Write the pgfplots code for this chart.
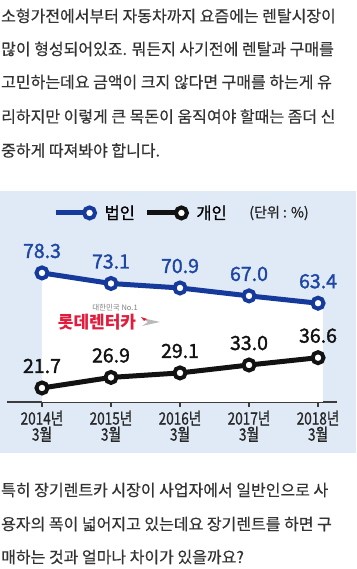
\documentclass[border=0pt]{standalone}
\usepackage{fontspec}
\setmainfont{Noto Sans CJK KR}
\newfontfamily\bodyfont[FakeBold=0.4]{Noto Sans CJK KR}
\newfontfamily\medfont[FakeBold=1.0]{Noto Sans CJK KR}
\newfontfamily\numfont[FakeBold=1.6]{Noto Sans CJK KR}
\usepackage{pgfplots}
\pgfplotsset{compat=1.18}
\definecolor{bg}{RGB}{223,234,246}
\definecolor{bblue}{RGB}{22,58,155}
\definecolor{lblue}{RGB}{30,70,165}
\definecolor{txt}{RGB}{51,51,51}
\definecolor{lotte}{RGB}{226,28,60}
\definecolor{axc}{RGB}{60,60,60}
\begin{document}
\begin{tikzpicture}[x=1pt,y=1pt]
\useasboundingbox (0,0) rectangle (356,569);
\fill[white] (0,0) rectangle (356,569);
\fill[bg] (0,116) rectangle (356,378);
\begin{scope}[every node/.style={anchor=base west, inner sep=0pt, font=\bodyfont\fontsize{16}{18}\selectfont, text=txt}]
\node at (1,547) {소형가전에서부터 자동차까지 요즘에는 렌탈시장이};
\node at (1,514) {많이 형성되어있죠. 뭐든지 사기전에 렌탈과 구매를};
\node at (1,481) {고민하는데요 금액이 크지 않다면 구매를 하는게 유};
\node at (1,446.5) {리하지만 이렇게 큰 목돈이 움직여야 할때는 좀더 신};
\node at (1,412.5) {중하게 따져봐야 합니다.};
\node at (1,73) {특히 장기렌트카 시장이 사업자에서 일반인으로 사};
\node at (1,39) {용자의 폭이 넓어지고 있는데요 장기렌트를 하면 구};
\node at (1,6) {매하는 것과 얼마나 차이가 있을까요?};
\end{scope}
\begin{axis}[
 at={(7pt,167pt)}, anchor=south west, scale only axis,
 width=330pt, height=162pt,
 xmin=-0.507, xmax=4.275, ymin=14.8, ymax=94.5,
 clip=false,
 axis x line*=bottom, axis y line=none,
 x axis line style={-, line width=1.6pt, color=axc},
 xtick={0,1,2,3,4},
 xticklabels={{\scalebox{0.8}[1]{2014년}\\\scalebox{0.8}[1]{3월}},
              {\scalebox{0.8}[1]{2015년}\\\scalebox{0.8}[1]{3월}},
              {\scalebox{0.8}[1]{2016년}\\\scalebox{0.8}[1]{3월}},
              {\scalebox{0.8}[1]{2017년}\\\scalebox{0.8}[1]{3월}},
              {\scalebox{0.8}[1]{2018년}\\\scalebox{0.8}[1]{3월}}},
 xticklabel style={align=center, font=\medfont\fontsize{17}{15}\selectfont, text=black!85},
 tick align=outside, major tick length=5pt,
 every tick/.style={line width=1.6pt, color=axc},
 ytick=\empty,
 /pgf/number format/assume math mode=true,
 legend columns=2,
 legend style={at={(0.139,1.167)}, anchor=west, draw=none, fill=none, inner sep=0pt,
   font=\medfont\fontsize{16.5}{18}\selectfont, nodes={inner sep=0pt},
   /tikz/every odd column/.append style={column sep=7.5pt},
   /tikz/every even column/.append style={column sep=10pt}},
 legend image code/.code={\draw[#1, mark=none] (0pt,0pt) -- (34pt,0pt);
   \draw[#1, line width=4pt, fill=white] (34pt,0pt) circle (5.5pt);},
]
\addplot[draw=none, fill=white, mark=none, forget plot] coordinates
  {(0,78.3) (1,73.1) (2,70.9) (3,67.0) (4,63.4) (4.07,63.4)} \closedcycle;
\addplot[color=bblue, line width=5pt, mark=*, mark size=5.5pt,
  mark options={fill=white, line width=4pt, draw=bblue},
  nodes near coords={\pgfmathprintnumber[fixed,fixed zerofill,precision=1]{\pgfplotspointmeta}},
  every node near coord/.append style={anchor=base, yshift=15pt, text=lblue,
    font=\numfont\fontsize{19.5}{20}\selectfont}]
  coordinates {(0,78.3) (1,73.1) (2,70.9) (3,67.0) (4,63.4)};
\addlegendentry{법인}
\addplot[color=black!93, line width=5pt, mark=*, mark size=5.5pt,
  mark options={fill=white, line width=4pt, draw=black!93},
  nodes near coords={\pgfmathprintnumber[fixed,fixed zerofill,precision=1]{\pgfplotspointmeta}},
  every node near coord/.append style={anchor=base, yshift=15pt, text=black!93,
    font=\numfont\fontsize{19.5}{20}\selectfont}]
  coordinates {(0,21.7) (1,26.9) (2,29.1) (3,33.0) (4,36.6)};
\addlegendentry{개인}
\end{axis}
\node[font=\medfont\fontsize{14}{16}\selectfont, text=black!85, inner sep=0pt] at (279,356) {(단위 : \%)};
\node[font=\fontsize{7.5}{8}\selectfont, text=gray, inner sep=0pt] at (115,261) {대한민국 No.1};
\node[font=\fontsize{17}{18}\selectfont\bfseries, text=lotte, inner sep=0pt] at (97,247) {롯데렌터카};
\fill[gray!55] (142,251) -- (160,247) -- (142,243) -- (148,247) -- cycle;
\fill[lotte] (141,252) -- (147,250) -- (144,248) -- cycle;
\end{tikzpicture}
\end{document}
